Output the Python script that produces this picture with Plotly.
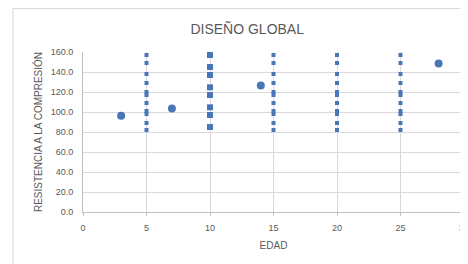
import plotly.graph_objects as go

# Data
edad_col = [5, 15, 20, 25]
col_values = [82, 89, 98, 101, 109, 117, 120, 129, 138, 149, 157]

edad_10 = 10
values_10 = [85, 97, 104.7, 117, 124.7, 137, 145, 157]

edad_round = [3, 7, 14, 28]
values_round = [96.3, 103.5, 126.5, 148.5]

x_ticks = [0, 5, 10, 15, 20, 25, 30]
y_ticks = [0, 20, 40, 60, 80, 100, 120, 140, 160]

color = "#4A76B8"
gray = "#595959"
font = "Liberation Sans"

fig = go.Figure()

xs, ys = [], []
for e in edad_col:
    for v in col_values:
        xs.append(e)
        ys.append(v)
fig.add_trace(go.Scatter(x=xs, y=ys, mode="markers",
                         marker=dict(symbol="square", size=4, color=color),
                         showlegend=False, cliponaxis=False))
fig.add_trace(go.Scatter(x=[edad_10] * len(values_10), y=values_10, mode="markers",
                         marker=dict(symbol="square", size=6, color=color),
                         showlegend=False, cliponaxis=False))
fig.add_trace(go.Scatter(x=edad_round, y=values_round, mode="markers",
                         marker=dict(symbol="circle", size=8, color=color),
                         showlegend=False, cliponaxis=False))

# chart-area border (left and top visible in reference)
fig.add_shape(type="rect", xref="paper", yref="paper",
              x0=-0.184, x1=1.2, y0=-0.5, y1=1.272,
              line=dict(color="#d9d9d9", width=1), fillcolor="rgba(0,0,0,0)")

fig.update_layout(
    width=460, height=256,
    margin=dict(l=75, r=4, t=44, b=52, autoexpand=False),
    paper_bgcolor="white", plot_bgcolor="white",
    title=dict(text="DISEÑO GLOBAL", x=0.52, xanchor="center", y=0.918, yanchor="middle",
               font=dict(family=font, size=14, color=gray)),
    font=dict(family=font, size=9, color=gray),
    xaxis=dict(range=[0, 30], tickvals=x_ticks, ticktext=[str(t) for t in x_ticks],
               showgrid=True, gridcolor="#d9d9d9", gridwidth=1, automargin=False,
               showline=True, linecolor="#bfbfbf", ticks="outside", ticklen=3,
               tickcolor="#bfbfbf", zeroline=False, ticklabelstandoff=4,
               ticklabeloverflow="allow",
               title=dict(text="EDAD", font=dict(size=10, color=gray), standoff=10),
               tickfont=dict(size=9, color=gray)),
    yaxis=dict(range=[0, 160], tickvals=y_ticks, ticktext=[f"{t:.1f}" for t in y_ticks],
               showgrid=True, gridcolor="#d9d9d9", gridwidth=1, automargin=False,
               showline=True, linecolor="#bfbfbf", zeroline=False,
               ticks="", ticklabelstandoff=7,
               title=dict(text="RESISTENCIA A LA COMPRESIÓN", font=dict(size=10, color=gray), standoff=6),
               tickfont=dict(size=9, color=gray)),
)

fig.write_html("out.html")
